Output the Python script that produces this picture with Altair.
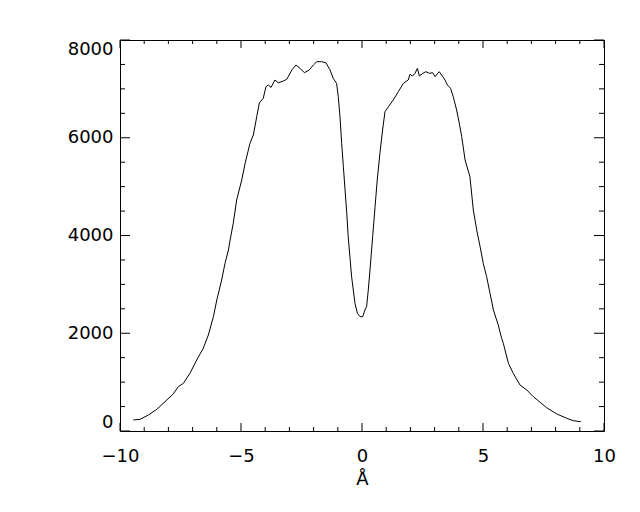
import altair as alt
import pandas as pd

# Spectrum profile (wavelength offset in Å, intensity)
wavelength = [-9.45, -9.17, -8.83, -8.48, -8.14, -7.80, -7.59, -7.38, -7.11, -6.83,
              -6.56, -6.35, -6.14, -6.00, -5.80, -5.66, -5.52, -5.45, -5.32, -5.18,
              -4.97, -4.83, -4.63, -4.49, -4.35, -4.24, -4.08, -3.97, -3.87, -3.76,
              -3.60, -3.46, -3.25, -3.11, -2.90, -2.73, -2.56, -2.38, -2.18, -2.01,
              -1.87, -1.67, -1.49, -1.32, -1.19, -1.05, -0.98, -0.91, -0.84, -0.77,
              -0.70, -0.63, -0.57, -0.50, -0.43, -0.36, -0.29, -0.19, -0.08, 0.03,
              0.12, 0.19, 0.26, 0.33, 0.44, 0.54, 0.63, 0.74, 0.85, 0.95,
              1.09, 1.29, 1.50, 1.71, 1.91, 1.98, 2.09, 2.19, 2.29, 2.37,
              2.51, 2.64, 2.78, 2.92, 3.02, 3.19, 3.29, 3.43, 3.53, 3.66,
              3.77, 3.91, 4.02, 4.12, 4.26, 4.46, 4.60, 4.74, 4.88, 5.01,
              5.15, 5.29, 5.43, 5.63, 5.77, 5.84, 6.05, 6.25, 6.53, 6.81,
              7.08, 7.36, 7.63, 8.05, 8.46, 8.73, 9.04]
intensity = [225, 240, 327, 443, 600, 757, 907, 976, 1180, 1453,
             1692, 1964, 2339, 2680, 3089, 3431, 3703, 3908, 4250, 4726,
             5135, 5477, 5886, 6056, 6431, 6717, 6807, 7044, 7079, 7030,
             7181, 7126, 7161, 7195, 7386, 7488, 7420, 7331, 7386, 7488,
             7556, 7556, 7535, 7386, 7216, 7113, 6840, 6431, 5886, 5408,
             4931, 4454, 3975, 3566, 3157, 2885, 2613, 2408, 2339, 2339,
             2476, 2544, 2885, 3294, 3975, 4590, 5135, 5682, 6158, 6533,
             6635, 6772, 6942, 7113, 7181, 7298, 7263, 7318, 7420, 7263,
             7318, 7352, 7318, 7331, 7249, 7352, 7284, 7181, 7079, 7011,
             6840, 6568, 6295, 6021, 5545, 5203, 4522, 4113, 3771, 3431,
             3157, 2817, 2476, 2169, 1897, 1794, 1385, 1180, 941, 839,
             702, 587, 477, 348, 260, 211, 190]

x_major = [-10, -5, 0, 5, 10]
x_minor = [-9, -8, -7, -6, -4, -3, -2, -1, 1, 2, 3, 4, 6, 7, 8, 9]
y_major = [0, 2000, 4000, 6000, 8000]
y_minor = [500, 1000, 1500, 2500, 3000, 3500, 4500, 5000, 5500, 6500, 7000, 7500]

W, H = 484, 391
FONT = "DejaVu Sans"

df = pd.DataFrame({"x": wavelength, "y": intensity})

xs = alt.Scale(domain=[-10, 10], nice=False, zero=False)
ys = alt.Scale(domain=[0, 8000], nice=False, zero=False)

x_axis = alt.Axis(values=x_major, title="Å", ticks=False, tickSize=0, domain=False,
                  grid=False, format="d", labelFont=FONT, labelFontSize=18, labelColor="black",
                  labelPadding=16, labelFlush=False, titleFont=FONT, titleFontSize=18,
                  titleFontWeight="normal", titleColor="black", titlePadding=5)
y_axis = alt.Axis(values=y_major, title=None, ticks=False, tickSize=0, domain=False,
                  grid=False, format="d", labelFont=FONT, labelFontSize=18, labelColor="black",
                  labelPadding=7, labelFlush=True)

line = alt.Chart(df).mark_line(color="black", strokeWidth=1, clip=True).encode(
    x=alt.X("x:Q", scale=xs, axis=x_axis),
    y=alt.Y("y:Q", scale=ys, axis=y_axis),
)

def xticks(vals, length):
    d = pd.DataFrame({"x": vals})
    bottom = alt.Chart(d).mark_rule(color="black", strokeWidth=1).encode(
        x=alt.X("x:Q", scale=xs, axis=x_axis), y=alt.value(H), y2=alt.value(H - length))
    top = alt.Chart(d).mark_rule(color="black", strokeWidth=1).encode(
        x=alt.X("x:Q", scale=xs, axis=x_axis), y=alt.value(0), y2=alt.value(length))
    return [bottom, top]

def yticks(vals, length):
    d = pd.DataFrame({"y": vals})
    left = alt.Chart(d).mark_rule(color="black", strokeWidth=1).encode(
        y=alt.Y("y:Q", scale=ys, axis=y_axis), x=alt.value(0), x2=alt.value(length))
    right = alt.Chart(d).mark_rule(color="black", strokeWidth=1).encode(
        y=alt.Y("y:Q", scale=ys, axis=y_axis), x=alt.value(W), x2=alt.value(W - length))
    return [left, right]

layers = [line] + xticks(x_major, 8) + xticks(x_minor, 4) + yticks(y_major, 10) + yticks(y_minor, 5)

chart = alt.layer(*layers).properties(
    width=W, height=H,
    autosize=alt.AutoSizeParams(type="none"),
    padding={"left": 112, "top": 32, "right": 28, "bottom": 80},
    background="white",
).configure_view(stroke="black", strokeWidth=1)

chart.save("out.html", embed_options={"renderer": "svg", "actions": False})
